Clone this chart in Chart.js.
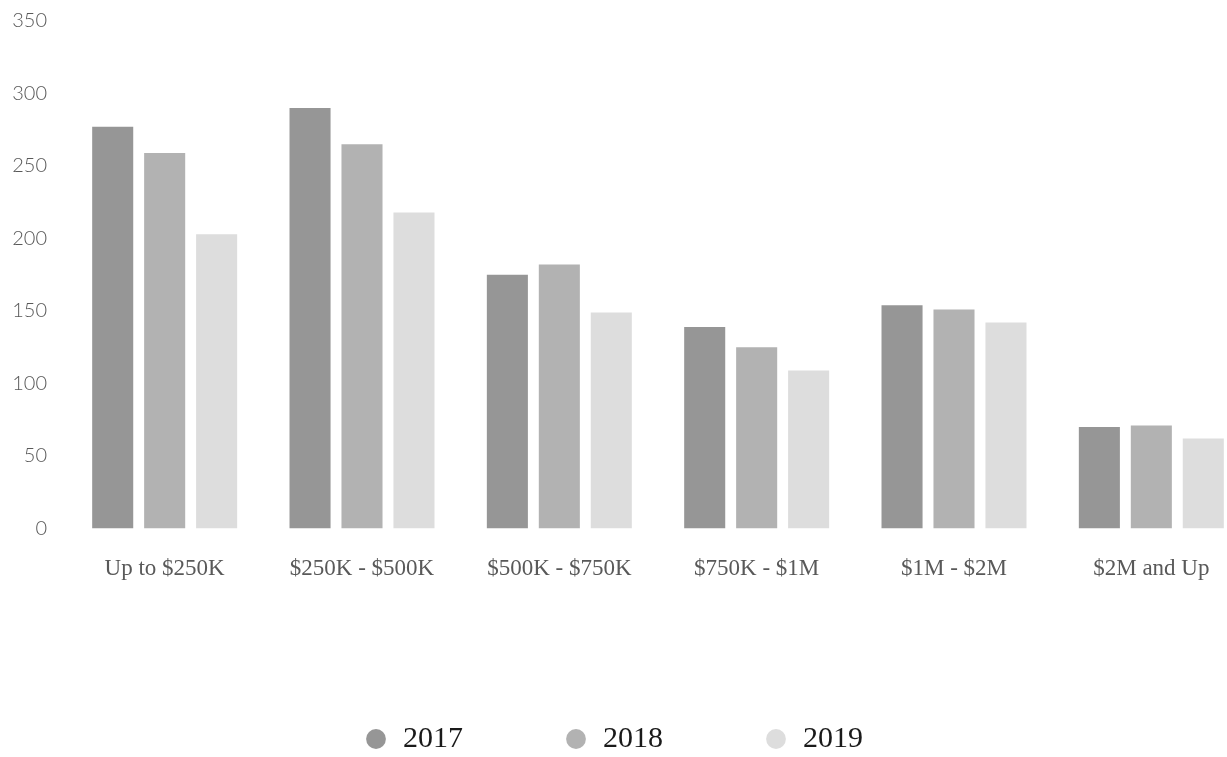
<!DOCTYPE html>
<html>
<head>
<meta charset="utf-8">
<script src="https://cdn.jsdelivr.net/npm/chart.js@4"></script>
<style>
  html, body { margin: 0; padding: 0; background: #fff; overflow: hidden; }
  /* the original picture is cut off on the right, so the canvas is a bit wider than the window */
  #wrap { position: absolute; left: 0; top: 0; width: 1250px; height: 764px; }
</style>
</head>
<body>
<div id="wrap"><canvas id="salesChart"></canvas></div>
<script>
var categories = ["Up to $250K", "$250K - $500K", "$500K - $750K", "$750K - $1M", "$1M - $2M", "$2M and Up"];
var years = ["2017", "2018", "2019"];
var sales2017 = [277, 290, 175, 139, 154, 70];
var sales2018 = [259, 265, 182, 125, 151, 71];
var sales2019 = [203, 218, 149, 109, 142, 62];
var yTicks = [0, 50, 100, 150, 200, 250, 300, 350];

var barColors = ["#969696", "#b2b2b2", "#dddddd"];

function makeDataset(label, values, color) {
  return {
    label: label,
    data: values,
    backgroundColor: color,
    borderWidth: 0,
    categoryPercentage: 0.79,
    barPercentage: 0.79
  };
}

var ctx = document.getElementById("salesChart");
var salesChart = new Chart(ctx, {
  type: "bar",
  data: {
    labels: categories,
    datasets: [
      makeDataset(years[0], sales2017, barColors[0]),
      makeDataset(years[1], sales2018, barColors[1]),
      makeDataset(years[2], sales2019, barColors[2])
    ]
  },
  options: {
    responsive: true,
    maintainAspectRatio: false,
    animation: false,
    layout: { padding: { top: 21, left: -23, right: 0, bottom: 0 } },
    plugins: {
      tooltip: { enabled: false },
      legend: {
        position: "bottom",
        labels: {
          usePointStyle: true,
          pointStyle: "circle",
          boxWidth: 24,
          boxHeight: 14,
          padding: 101,
          color: "#1a1a1a",
          font: { family: "'Liberation Serif', serif", size: 30 }
        }
      }
    },
    scales: {
      x: {
        grid: { display: false, drawTicks: false },
        border: { display: false },
        ticks: {
          color: "#595959",
          padding: 27,
          maxRotation: 0,
          font: { family: "'Liberation Serif', serif", size: 23 }
        },
        afterFit: function (scale) {
          scale.height = 94.5;
        }
      },
      y: {
        min: yTicks[0],
        max: yTicks[yTicks.length - 1],
        grid: { display: false, drawTicks: false },
        border: { display: false },
        afterBuildTicks: function (scale) {
          scale.ticks = yTicks.map(function (v) { return { value: v }; });
        },
        ticks: {
          color: "#595959",
          padding: 19,
          font: { family: "Lato, 'Open Sans', sans-serif", size: 20, weight: 300 }
        },
        afterFit: function (scale) {
          // keep the plot area where the original has it
          scale.width = 89;
          scale.paddingTop = 0;
          scale.paddingBottom = 0;
        }
      }
    }
  }
});
</script>
</body>
</html>
